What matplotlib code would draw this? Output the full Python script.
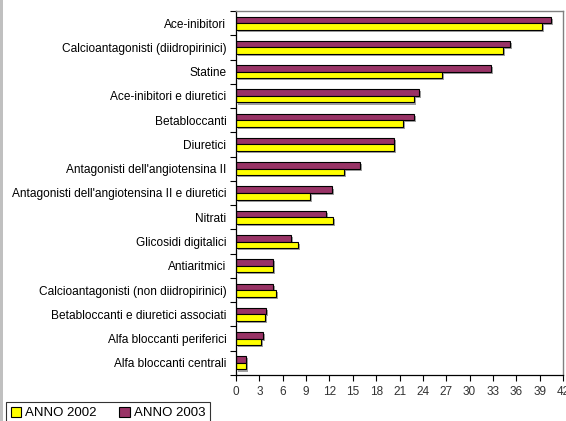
import matplotlib
matplotlib.use("Agg")
import matplotlib.pyplot as plt
import matplotlib.patheffects as pe
from matplotlib.patches import Rectangle
import numpy as np

categories = [
    "Ace-inibitori",
    "Calcioantagonisti (diidropirinici)",
    "Statine",
    "Ace-inibitori e diuretici",
    "Betabloccanti",
    "Diuretici",
    "Antagonisti dell'angiotensina II",
    "Antagonisti dell'angiotensina II e diuretici",
    "Nitrati",
    "Glicosidi digitalici",
    "Antiaritmici",
    "Calcioantagonisti (non diidropirinici)",
    "Betabloccanti e diuretici associati",
    "Alfa bloccanti periferici",
    "Alfa bloccanti centrali",
]
anno_2002 = [39.3, 34.3, 26.5, 22.8, 21.4, 20.3, 13.9, 9.5, 12.5, 8.0, 4.8, 5.1, 3.7, 3.25, 1.25]
anno_2003 = [40.5, 35.2, 32.8, 23.5, 22.9, 20.3, 15.9, 12.3, 11.6, 7.1, 4.8, 4.8, 3.85, 3.5, 1.25]
x_ticks = list(range(0, 43, 3))

plt.rcParams["font.family"] = ["Liberation Sans", "DejaVu Sans"]

fig = plt.figure(figsize=(5.66, 4.21), dpi=100)
fig.patch.set_facecolor("white")
# thin grey frame on the left edge
fig.add_artist(Rectangle((0, 0), 3 / 566, 1, transform=fig.transFigure,
                         facecolor="#c0c0c0", edgecolor="none"))

ax = fig.add_axes([236 / 566, 46 / 421, 327 / 566, 364 / 421])

n = len(categories)
y = np.arange(n)
h = 0.27
shadow = [pe.SimplePatchShadow(offset=(1.5, -1.5), shadow_rgbFace="#888888", alpha=0.8), pe.Normal()]
b03 = ax.barh(y - h / 2, anno_2003, height=h, color="#993366", edgecolor="black",
              linewidth=0.8, label="ANNO 2003")
b02 = ax.barh(y + h / 2, anno_2002, height=h, color="#ffff00", edgecolor="black",
              linewidth=0.8, label="ANNO 2002")
for bar in list(b03) + list(b02):
    bar.set_path_effects(shadow)

ax.set_ylim(n - 0.5, -0.5)
ax.set_xlim(0, 42)
ax.set_yticks(y)
ax.set_yticklabels(categories, fontsize=8.6)
ax.set_yticks(np.arange(-0.5, n, 1), minor=True)
ax.tick_params(axis="y", which="major", length=0, pad=7)
ax.tick_params(axis="y", which="minor", length=4, width=0.8, direction="out")
ax.set_xticks(x_ticks)
ax.tick_params(axis="x", length=4, width=0.8, direction="out", labelsize=8.5,
               labelcolor="#333333", pad=4)

for side in ("top", "right"):
    ax.spines[side].set_color("#808080")
    ax.spines[side].set_linewidth(1.0)
for side in ("left", "bottom"):
    ax.spines[side].set_color("black")
    ax.spines[side].set_linewidth(0.9)

leg = fig.legend(handles=[b02, b03], labels=["ANNO 2002", "ANNO 2003"],
                 loc="upper left", bbox_to_anchor=(6 / 566, 1 - 402 / 421),
                 ncol=2, fontsize=9.5, frameon=True, fancybox=False,
                 handlelength=0.8, handleheight=0.8, handletextpad=0.3,
                 columnspacing=1.7, borderpad=0.35, borderaxespad=0)
leg.get_frame().set_edgecolor("black")
leg.get_frame().set_linewidth(0.8)
for hd in leg.legend_handles:
    hd.set_path_effects([])

fig.savefig("out.png", dpi=100)
